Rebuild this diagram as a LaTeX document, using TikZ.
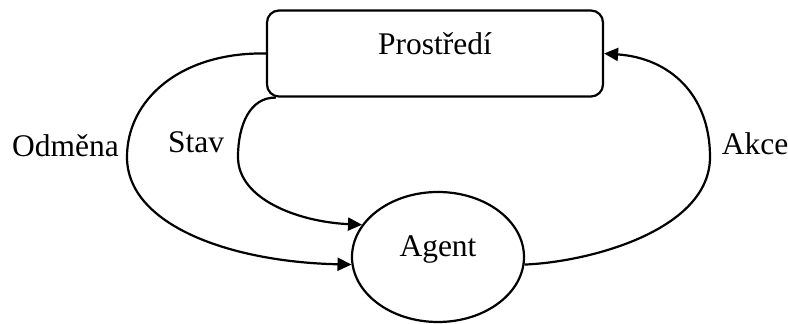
\documentclass[tikz,border=0pt]{standalone}
\usepackage{fontspec}
\setmainfont{Liberation Serif}
\usetikzlibrary{arrows.meta,shapes.geometric,calc}
\begin{document}
\begin{tikzpicture}[x=0.5pt,y=-0.5pt,
  line width=1.1pt,
  every node/.style={font=\fontsize{15.75}{19}\selectfont},
  envbox/.style={draw,rounded corners=6pt,minimum width=168pt,minimum height=43pt,
    inner sep=0pt,text height=12pt,text depth=10.5pt},
  agentshape/.style={draw,ellipse,minimum width=86pt,minimum height=65pt,
    inner sep=0pt,text height=11pt,text depth=11pt},
  flow/.style={-{Triangle[length=7pt,width=6.5pt]}},
  edgelabel/.style={anchor=base,inner sep=0pt}]
\useasboundingbox (0,0) rectangle (788,324);

% the two parts of the loop
\node[envbox] (env) at (435,53.5) {Prostředí};
\node[agentshape] (agent) at (438,257) {Agent};
\coordinate (envfoot) at ($(env.south west)+(10,0)$);

% reward and state flow from the environment to the agent
\draw[flow] (env.west) .. controls (180,52) and (127,100) .. (127,157)
  .. controls (127,225) and (230,262) .. (agent.185);
\draw[flow] (envfoot) .. controls (250,97) and (238,125) .. (238,157)
  .. controls (238,200) and (300,222) .. (agent.157);
% action flows back to the environment
\draw[flow] (agent.355) .. controls (590,262) and (710,230) .. (710,157)
  .. controls (710,95) and (670,58) .. (env.east);

\node[edgelabel] (lodmena) at (65.5,157) {Odměna};
\node[edgelabel] (lstav) at (196,153) {Stav};
\node[edgelabel] (lakce) at (755,155) {Akce};
\end{tikzpicture}
\end{document}
